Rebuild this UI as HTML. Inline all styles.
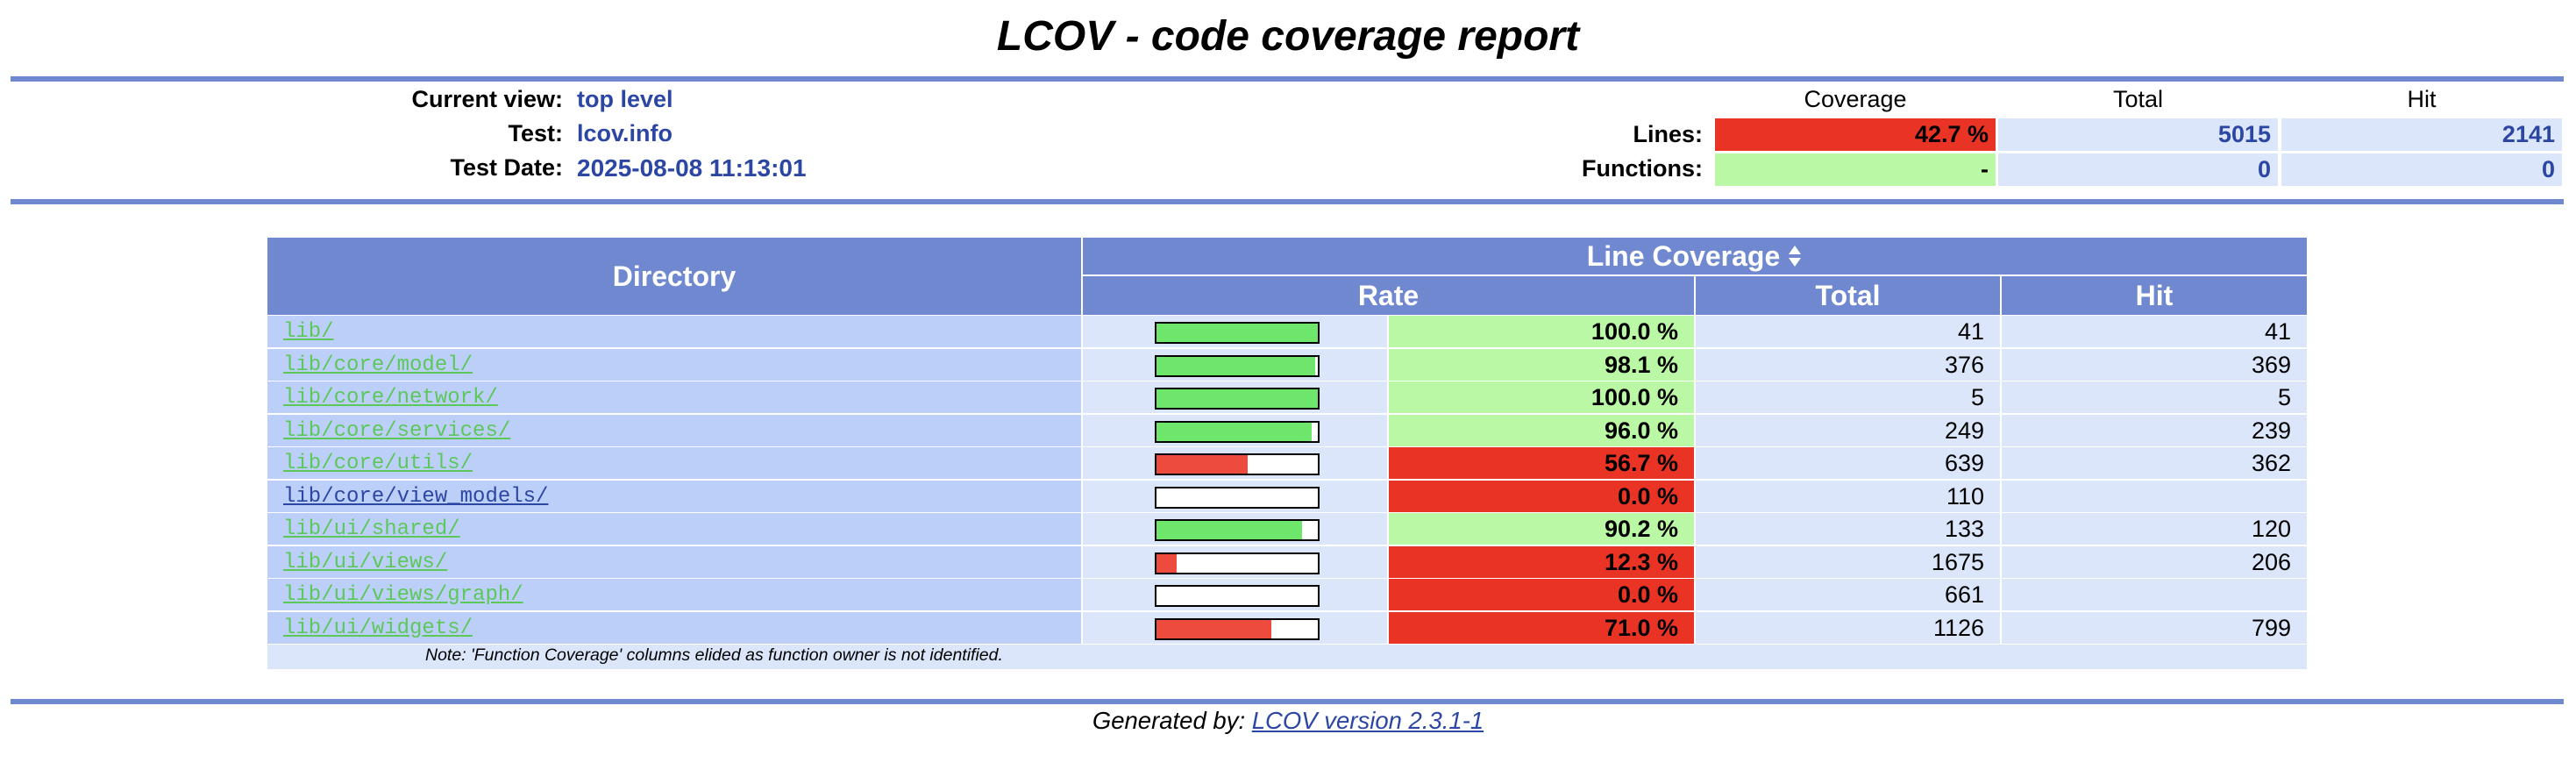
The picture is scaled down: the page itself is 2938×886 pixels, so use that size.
<!DOCTYPE html>
<html><head><meta charset="utf-8">
<style>
html,body{margin:0;padding:0;background:#fff;width:2938px;height:886px;overflow:hidden;font-family:"Liberation Sans",sans-serif;}
.a{position:absolute;box-sizing:border-box;}
.rule{background:#6f88cf;left:12px;width:2912px;height:6px;}
.lbl{font-weight:bold;font-size:27px;color:#000;text-align:right;}
.val{font-weight:bold;font-size:27px;color:#2c46a3;}
.hd{background:#6f88cf;color:#fff;font-weight:bold;font-size:32px;display:flex;align-items:center;justify-content:center;}
.cell{display:flex;align-items:center;font-size:27px;}
.dir{background:#bccff9;padding-left:18px;font-family:"Liberation Mono",monospace;font-size:24px;}
.dir a{color:#5cc85a;text-decoration:underline;}
.dir a.v{color:#2c46a3;}
.lt{background:#dce6fa;}
.num{justify-content:flex-end;padding-right:18px;}
.pct{justify-content:flex-end;padding-right:18px;font-weight:bold;}
.hi{background:#baf8a5;}
.lo{background:#e93324;}
.bar{position:absolute;border:2px solid #000;background:#fff;height:21px;width:184px;}
</style></head>
<body>
<div class="a" style="left:0;top:14px;width:2938px;text-align:center;font-size:48px;font-weight:bold;font-style:italic;">LCOV - code coverage report</div>
<div class="a rule" style="top:87px;"></div>

<div class="a lbl" style="left:300px;width:342px;top:98px;">Current view:</div>
<div class="a val" style="left:658px;top:98px;">top level</div>
<div class="a lbl" style="left:300px;width:342px;top:137px;">Test:</div>
<div class="a val" style="left:658px;top:137px;">lcov.info</div>
<div class="a lbl" style="left:300px;width:342px;top:176px;">Test Date:</div>
<div class="a val" style="left:658px;top:176px;font-size:28px;">2025-08-08 11:13:01</div>

<div class="a" style="left:1956px;width:320px;top:98px;text-align:center;font-size:27px;">Coverage</div>
<div class="a" style="left:2279px;width:319px;top:98px;text-align:center;font-size:27px;">Total</div>
<div class="a" style="left:2602px;width:320px;top:98px;text-align:center;font-size:27px;">Hit</div>
<div class="a lbl" style="left:1700px;width:242px;top:138px;">Lines:</div>
<div class="a cell pct lo" style="left:1956px;width:320px;top:135px;height:37px;padding-right:8px;">42.7 %</div>
<div class="a cell num lt val" style="left:2279px;width:319px;top:135px;height:37px;padding-right:8px;">5015</div>
<div class="a cell num lt val" style="left:2602px;width:320px;top:135px;height:37px;padding-right:8px;">2141</div>
<div class="a lbl" style="left:1700px;width:242px;top:177px;">Functions:</div>
<div class="a cell pct hi" style="left:1956px;width:320px;top:175px;height:37px;padding-right:8px;">-</div>
<div class="a cell num lt val" style="left:2279px;width:319px;top:175px;height:37px;padding-right:8px;">0</div>
<div class="a cell num lt val" style="left:2602px;width:320px;top:175px;height:37px;padding-right:8px;">0</div>
<div class="a rule" style="top:227px;"></div>

<div class="a hd" style="left:305px;width:928px;top:271px;height:88px;">Directory</div>
<div class="a hd" style="left:1235px;width:1396px;top:271px;height:42px;">Line Coverage
<svg width="18" height="28" viewBox="0 0 18 28" style="margin-left:8px;"><polygon points="9,2 16,12 2,12" fill="#fff"/><polygon points="9,26 16,16 2,16" fill="#fff"/></svg></div>
<div class="a hd" style="left:1235px;width:697px;top:315px;height:44px;">Rate</div>
<div class="a hd" style="left:1934px;width:347px;top:315px;height:44px;">Total</div>
<div class="a hd" style="left:2283px;width:348px;top:315px;height:44px;">Hit</div>

<div id="rows"></div>

<div class="a lt" style="left:305px;width:2326px;top:735px;height:28px;"></div>
<div class="a" style="left:485px;top:736px;font-size:19.5px;font-style:italic;">Note: 'Function Coverage' columns elided as function owner is not identified.</div>

<div class="a rule" style="top:797px;"></div>
<div class="a" style="left:0;width:2938px;top:806px;text-align:center;font-size:27.5px;font-style:italic;">Generated by: <a style="color:#2c46a3;text-decoration:underline;">LCOV version 2.3.1-1</a></div>

<script>
const dirs = ["lib/","lib/core/model/","lib/core/network/","lib/core/services/","lib/core/utils/","lib/core/view_models/","lib/ui/shared/","lib/ui/views/","lib/ui/views/graph/","lib/ui/widgets/"];
const rates = [100.0,98.1,100.0,96.0,56.7,0.0,90.2,12.3,0.0,71.0];
const totals = [41,376,5,249,639,110,133,1675,661,1126];
const hits = [41,369,5,239,362,null,120,206,null,799];

const root = document.getElementById('rows');
function rowTop(i){ return Math.round(360 + i*37.5); }
function mk(cls, left, width, top, h){
  const d = document.createElement('div');
  d.className = 'a ' + cls;
  d.style.left = left+'px'; d.style.width = width+'px';
  d.style.top = top+'px'; d.style.height = h+'px';
  root.appendChild(d);
  return d;
}
dirs.forEach((name, i) => {
  const t = rowTop(i), h = 36;
  const good = rates[i] >= 90;
  const dc = mk('cell dir', 305, 928, t, h);
  
  
  const a = document.createElement('a');
  a.textContent = name;
  if (name === 'lib/core/view_models/') a.className = 'v';
  
  
  dc.appendChild(a);
  const bc = mk('lt', 1235, 347, t, h);
  
  
  const bar = document.createElement('div');
  bar.className = 'bar';
  bar.style.left = '82px'; bar.style.top = '7px';
  
  
  const fill = document.createElement('div');
  fill.style.height = '100%';
  fill.style.width = (rates[i]) + '%';
  fill.style.background = good ? '#6ee66b' : '#ec4b3e';
  
  
  bar.appendChild(fill);
  bc.appendChild(bar);
  const pc = mk('cell pct ' + (good ? 'hi' : 'lo'), 1584, 348, t, h);
  pc.textContent = rates[i].toFixed(1) + ' %';
  
  
  const tc = mk('cell num lt', 1934, 347, t, h);
  tc.textContent = totals[i];
  
  
  const hc = mk('cell num lt', 2283, 348, t, h);
  hc.textContent = hits[i] === null ? '' : hits[i];
  
  
});
</script>
</body></html>
